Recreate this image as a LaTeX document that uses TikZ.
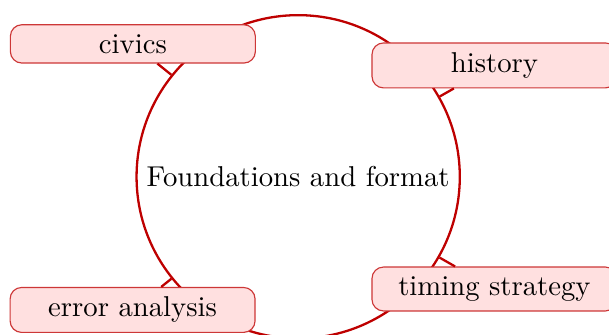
\documentclass[tikz,border=0pt]{standalone}
\definecolor{leafdraw}{RGB}{205,55,55}
\definecolor{hubdraw}{RGB}{190,0,0}
\definecolor{leaffill}{RGB}{255,224,224}
\tikzset{
  hub/.style={circle, draw=hubdraw, line width=0.8pt, inner sep=3.33pt},
  leaf/.style={rectangle, rounded corners=4pt, draw=leafdraw, fill=leaffill, minimum width=3cm, line width=0.4pt},
  link/.style={draw=hubdraw, line width=0.8pt}
}
\begin{document}
\begin{tikzpicture}[x=1pt,y=1pt]
\useasboundingbox (-103.9,-55.1) rectangle (108.3,61.6);
\clip (-103.9,-55.1) rectangle (108.3,61.6);
\node[hub] (c) at (0,0) {Foundations and format};
\node[leaf] (civ) at (-57.6,46.3) {civics};
\node[leaf] (his) at (68.4,38.8) {history};
\node[leaf] (tim) at (68.4,-39.1) {timing strategy};
\node[leaf] (err) at (-57.7,-46.4) {error analysis};
\draw[link] (c) -- (civ);
\draw[link] (c) -- (his);
\draw[link] (c) -- (tim);
\draw[link] (c) -- (err);
\end{tikzpicture}
\end{document}
